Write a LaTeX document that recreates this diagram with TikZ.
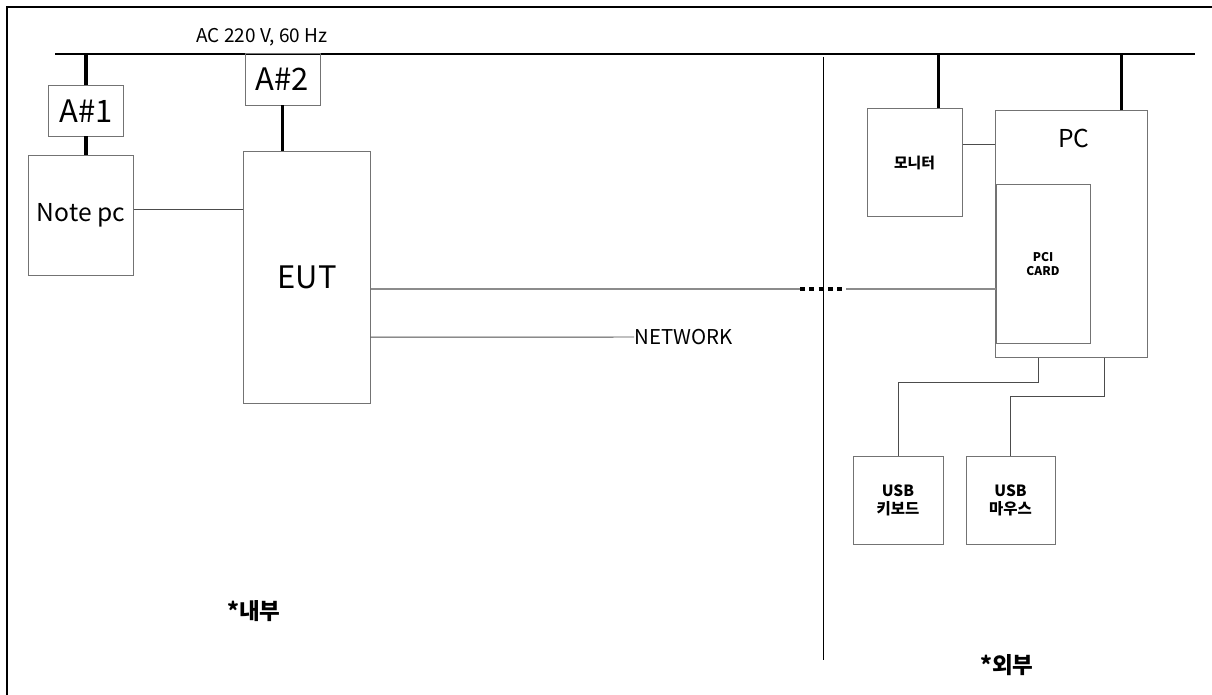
\documentclass[tikz,border=0pt]{standalone}
\usepackage{fontspec}
\setmainfont{Noto Sans CJK KR}
\usepackage{tikz}
\usetikzlibrary{calc}

\newcommand{\fs}[1]{\fontsize{#1}{1.15\dimexpr #1\relax}\selectfont}

\begin{document}
\begin{tikzpicture}[x=0.025cm, y=-0.025cm,
    box/.style={rectangle, draw=black!55, line width=0.7pt, inner sep=0pt, align=center},
    wire/.style={draw=black!70, line width=0.7pt},
    power/.style={line width=2.4pt, black},
    bus/.style={line width=1pt, black},
    lbl/.style={inner sep=0pt, align=center}]
    \useasboundingbox (0,0) rectangle (1212,695);

    % frame and mains
    \draw [line width=1pt] (1212,7) -- (7,7) -- (7,695);
    \coordinate (busL) at (55,54);
    \coordinate (busR) at (1195,54);
    \draw [bus] (busL) -- (busR);
    \node [lbl, font=\fs{13.5pt}] (ac) at (262,37) {AC 220 V, 60 Hz};

    % inside
    \node [box, minimum width=1.85cm, minimum height=1.25cm, font=\fs{22pt}] (a1) at (86,111) {A\#1};
    \node [box, minimum width=2.6cm, minimum height=2.975cm, font=\fs{17.5pt}] (note) at (81,215.5) {Note pc};
    \node [box, minimum width=1.875cm, minimum height=1.275cm, font=\fs{22pt}] (a2) at (282.5,79.5) {A\#2};
    \node [box, minimum width=3.15cm, minimum height=6.275cm, font=\fs{22pt}] (eut) at (307,277.5) {EUT};
    \node [lbl, anchor=west, font=\fs{14.5pt}] (net) at (634,337) {NETWORK};
    \node [lbl, font=\fs{16pt}\bfseries] (inner) at (254,611) {*내부};

    % outside
    \node [box, minimum width=2.375cm, minimum height=2.675cm, font=\fs{10.5pt}\bfseries] (mon) at (914.5,162.5) {모니터};
    \node [box, minimum width=3.775cm, minimum height=6.15cm] (pc) at (1071.5,234) {};
    \node [lbl, font=\fs{17.5pt}] (pclbl) at (1074,138) {PC};
    \node [box, minimum width=2.35cm, minimum height=3.95cm, font=\fs{8.5pt}\bfseries] (pci) at (1043,264) {PCI\\CARD};
    \node [box, minimum width=2.25cm, minimum height=2.175cm, font=\fs{11pt}\bfseries] (kbd) at (898,500.5) {USB\\키보드};
    \node [box, minimum width=2.225cm, minimum height=2.175cm, font=\fs{11pt}\bfseries] (mouse) at (1010.5,500.5) {USB\\마우스};
    \node [lbl, font=\fs{16pt}\bfseries] (outer) at (1007,665) {*외부};

    % divider
    \draw [line width=0.7pt] (823,57) -- (823,660);

    % power drops
    \draw [power] (a1.north) -- (a1.north |- busL);
    \draw [power] (a1.south) -- (a1.south |- note.north);
    \draw [power] (a2.south) -- (a2.south |- eut.north);
    \draw [power] ($(mon.north)!0.5!(mon.north east)$) coordinate (monp) -- (monp |- busL);
    \draw [power] ($(pc.north)!0.66!(pc.north east)$) coordinate (pcp) -- (pcp |- busL);

    % cables
    \draw [wire] ([yshift=0.16cm]note.east) -- ([yshift=0.16cm]note.east -| eut.west);
    \coordinate (d1) at ([yshift=-0.29cm]eut.east -| 800,0);
    \coordinate (d2) at ([yshift=-0.29cm]eut.east -| 846,0);
    \draw [draw=black!45, line width=1pt] ([yshift=-0.29cm]eut.east) -- (d1);
    \draw [line width=2.6pt, dash pattern=on 3.4pt off 3.2pt] (d1) -- (d2);
    \draw [draw=black!45, line width=1pt] (d2) -- (d2 -| pci.west);
    \draw [wire] ([yshift=-1.49cm]eut.east) -- (net.west);
    \draw [wire] ([yshift=0.46cm]mon.east) -- ([yshift=0.46cm]mon.east -| pc.west);
    \draw [wire] ($(pc.south west)!0.285!(pc.south east)$) -- ++(0,-0.62cm) -| (kbd.north);
    \draw [wire] ($(pc.south west)!0.715!(pc.south east)$) -- ++(0,-0.975cm) -| (mouse.north);
\end{tikzpicture}
\end{document}
